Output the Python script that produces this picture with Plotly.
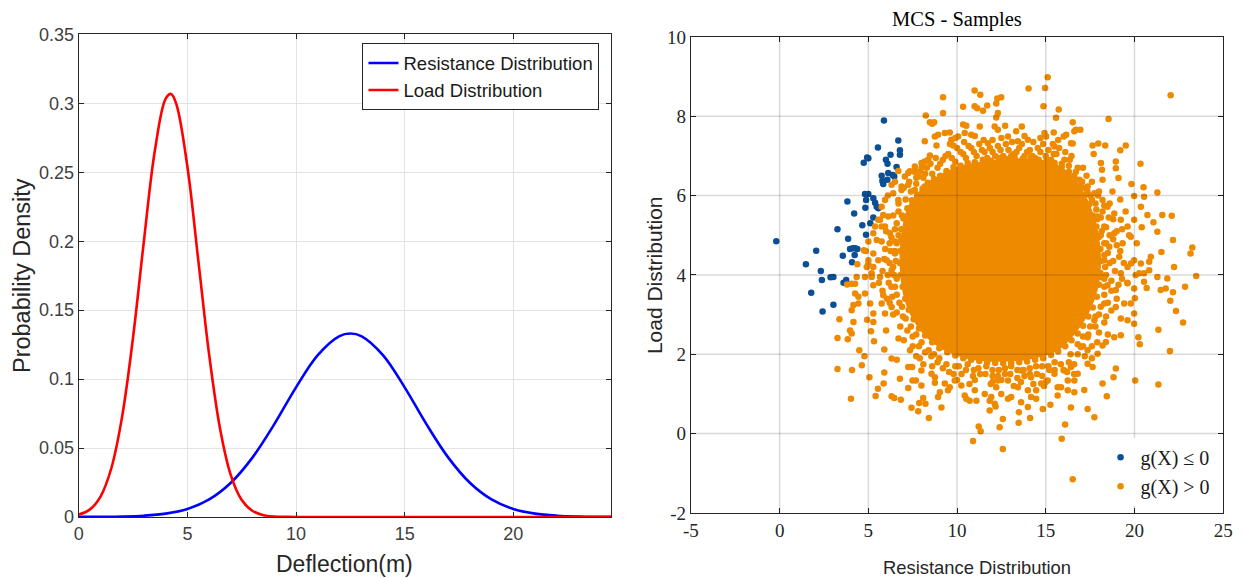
import plotly.graph_objects as go

# ---------------- data: left panel (probability density curves) ----------------
load_x = [0, 0.5, 1, 1.5, 2, 2.5, 3, 3.5, 4, 4.25, 4.5, 5, 5.5, 6, 6.5, 7, 7.5, 8, 8.5,
          9, 9.5, 10, 12, 16, 20, 24.5]
load_pdf = [0.0017, 0.0053, 0.0148, 0.0355, 0.0733, 0.1306, 0.2005, 0.2656, 0.3034, 0.3068,
            0.2989, 0.254, 0.1862, 0.1177, 0.0642, 0.0302, 0.0123, 0.0043, 0.0013,
            0.0003, 0.0001, 0.0, 0.0, 0.0, 0.0, 0.0]

res_x = [0, 1, 2, 3, 4, 5, 6, 7, 8, 9, 10, 11, 12, 12.5, 13, 14, 15, 16, 17, 18, 19, 20,
         21, 22, 23, 24, 24.5]
res_pdf = [0.00002, 0.00009, 0.0003, 0.0009, 0.0024, 0.0058, 0.0127, 0.0248, 0.0432, 0.0673,
           0.094, 0.1174, 0.1312, 0.133, 0.1312, 0.1174, 0.094, 0.0673, 0.0432, 0.0248,
           0.0127, 0.0058, 0.0024, 0.0009, 0.0003, 0.00009, 0.00004]

left_xticks = [0, 5, 10, 15, 20]
left_yticks = [0, 0.05, 0.1, 0.15, 0.2, 0.25, 0.3, 0.35]
left_yticklabels = ["0", "0.05", "0.1", "0.15", "0.2", "0.25", "0.3", "0.35"]

# ---------------- data: right panel (MCS samples) ----------------
# failure samples, g(X) <= 0  (resistance, load)
fail_samples = [
    (5.88, 7.89), (6.69, 7.39), (6.78, 7.14), (6.78, 7.03), (5.54, 7.21), (6.25, 7.03),
    (5.99, 6.90), (6.08, 6.80), (4.93, 6.96), (4.74, 6.83), (5.00, 6.94), (6.59, 6.72),
    (6.12, 6.57), (6.37, 6.52), (6.46, 6.48), (5.75, 6.50), (5.79, 6.37), (5.84, 6.29),
    (6.07, 6.40), (4.81, 6.04), (5.00, 6.04), (4.87, 5.89), (5.28, 5.93), (5.38, 5.82),
    (5.47, 5.72), (5.56, 5.68), (3.82, 5.85), (4.83, 5.69), (4.20, 5.55), (5.28, 5.45),
    (5.11, 5.30), (4.66, 5.25), (3.26, 5.15), (4.87, 5.01), (3.86, 4.91), (-0.19, 4.85),
    (4.12, 4.67), (4.25, 4.67), (4.38, 4.65), (3.97, 4.65), (4.23, 4.50), (2.06, 4.61),
    (3.56, 4.48), (1.48, 4.27), (4.08, 4.32), (2.32, 4.10), (2.87, 3.94), (3.03, 3.95),
    (3.75, 3.87), (2.38, 3.87), (3.60, 3.80), (3.73, 3.80), (1.78, 3.55), (2.42, 3.08),
    (3.03, 3.25),
]

# safe samples, g(X) > 0 (the sparse and transition samples around the dense core)
safe_samples = [
    (8.24, 8.02), (8.47, 7.85), (8.60, 7.81), (8.18, 7.37), (8.75, 7.49), (8.84, 7.26),
    (8.47, 7.01), (8.00, 6.82), (8.18, 6.86), (6.69, 6.62), (7.62, 6.65), (6.50, 6.35),
    (6.31, 6.27), (7.06, 6.48), (7.25, 6.57), (6.10, 6.00), (6.87, 6.23), (5.75, 5.72),
    (5.94, 5.89), (5.56, 5.39), (5.75, 5.22), (5.28, 5.05), (5.47, 4.88), (4.75, 4.62),
    (4.85, 4.60), (5.28, 4.54), (5.00, 4.29), (4.38, 4.27), (4.91, 4.20), (4.34, 3.95),
    (4.81, 3.95), (3.80, 3.76), (4.06, 3.78), (4.25, 3.78),
    (5.00, 4.84), (5.38, 5.22), (5.66, 5.39), (5.84, 5.51), (6.12, 5.47), (5.94, 5.22),
    (6.22, 5.05), (6.50, 4.84), (5.75, 4.84), (5.56, 4.37), (5.28, 4.20), (5.00, 4.37),
    (6.03, 4.37), (6.31, 4.12), (6.50, 4.54), (5.19, 4.04), (5.66, 3.95),
    (4.25, 3.53), (4.44, 3.45), (4.81, 3.53), (5.28, 3.74), (5.19, 3.95), (5.10, 3.28),
    (5.84, 3.49), (5.75, 3.28), (5.94, 3.03), (6.31, 3.19), (5.28, 3.03), (4.44, 3.28),
    (4.16, 3.24), (4.06, 3.11),
    (7.34, 6.61), (7.62, 6.73), (7.81, 6.48), (8.09, 6.82), (8.37, 6.90), (8.93, 7.53),
    (9.31, 7.58), (9.59, 7.59), (9.21, 8.08), (9.68, 7.41), (10.06, 7.49), (10.43, 7.58),
    (10.80, 7.53), (11.28, 7.74), (6.40, 6.06), (6.69, 5.89), (6.87, 6.14), (7.25, 6.27),
    (7.62, 6.14), (7.90, 5.97), (8.18, 6.23), (8.56, 6.31), (9.12, 6.19), (9.49, 6.06),
    (9.21, 8.48), (10.99, 8.65), (11.31, 8.54), (10.34, 8.24), (10.99, 8.25), (11.14, 8.20),
    (11.46, 8.14), (11.70, 8.27), (12.27, 8.45), (12.49, 8.48), (12.21, 8.32), (12.30, 8.08),
    (12.21, 7.97), (8.71, 7.85), (9.78, 7.26), (10.34, 7.79), (10.52, 7.76), (12.12, 7.74),
    (12.71, 7.76), (13.65, 7.74), (13.33, 7.62), (12.87, 7.49), (12.30, 7.66), (11.74, 7.32),
    (13.43, 7.37), (13.99, 7.41), (16.61, 7.62), (16.42, 7.32), (15.49, 7.24), (17.64, 7.26),
    (22.04, 8.53), (15.11, 8.98), (14.96, 8.71), (14.87, 8.25), (14.03, 8.70), (18.54, 7.93),
    (15.73, 8.17), (15.58, 7.96), (16.52, 7.85), (16.70, 7.66), (16.95, 7.66), (16.01, 7.49),
    (16.15, 7.53), (16.52, 7.31), (15.45, 7.59), (15.02, 7.49), (14.93, 7.58), (17.96, 7.31),
    (18.35, 7.26), (19.51, 7.26), (19.20, 7.14), (17.70, 7.05), (20.34, 6.80), (18.95, 6.86),
    (18.95, 6.69), (18.11, 6.82), (18.17, 6.65), (19.10, 6.44), (19.83, 6.29), (20.51, 6.21),
    (21.29, 6.08), (19.98, 5.99), (20.54, 5.97), (18.76, 6.10), (18.20, 6.40), (21.57, 5.51),
    (22.10, 5.49), (22.17, 4.88), (21.52, 4.58), (21.07, 5.33), (21.29, 5.09), (20.41, 5.20),
    (20.13, 4.80), (20.73, 5.51), (23.26, 4.69), (23.16, 4.54), (23.48, 3.97), (20.92, 4.46),
    (20.83, 4.33), (20.36, 4.29), (19.80, 4.29), (20.27, 4.04), (20.83, 4.12), (21.85, 3.91),
    (20.36, 5.72), (19.98, 5.39), (22.23, 4.20), (21.76, 3.66), (21.48, 3.62),
    (17.36, 6.23), (17.74, 6.06), (18.20, 5.89), (18.48, 5.72), (18.86, 5.55), (19.23, 5.39),
    (19.61, 5.22), (19.79, 4.96), (19.33, 4.80), (18.86, 5.05), (18.30, 5.22), (17.92, 5.47),
    (17.36, 5.64), (18.58, 4.71), (19.14, 4.46), (19.61, 4.20), (18.30, 4.37), (19.23, 4.04),
    (19.98, 4.37), (20.54, 4.04),
    (12.58, -0.39), (16.52, -1.15), (15.90, -0.13), (16.09, 0.23), (17.74, 0.41), (17.36, 0.62),
    (16.42, 0.66), (15.26, 0.73), (14.83, 0.62), (14.12, 0.39), (13.47, 0.27), (12.40, 0.16),
    (12.58, 0.37), (13.48, 0.54), (13.99, 0.67), (14.46, 0.88), (16.61, 1.04), (17.17, 1.10),
    (18.44, 0.94), (18.20, 1.26), (18.82, 1.42), (18.95, 1.64), (20.04, 1.34), (21.35, 1.24),
    (22.00, 2.08), (21.35, 2.62), (22.74, 2.80), (22.34, 3.09), (22.02, 3.35), (22.17, 3.56),
    (22.85, 3.70), (20.22, 2.43), (20.30, 2.25), (19.98, 2.77), (20.02, 3.41), (19.98, 3.66),
    (20.69, 3.67), (21.29, 3.95), (20.54, 3.83), (19.23, 2.48), (19.23, 2.90), (18.95, 3.19),
    (19.42, 3.28), (18.20, 2.22), (17.36, 2.10), (17.64, 1.68), (16.80, 1.51), (16.24, 1.34),
    (15.86, 1.17), (15.67, 0.96), (14.17, 0.92), (13.61, 0.79), (12.87, 0.88), (12.12, 0.75),
    (12.21, 1.17), (11.84, 0.58), (14.46, 1.09),
    (18.11, 3.95), (18.48, 3.74), (18.95, 3.62), (19.79, 3.28), (19.98, 3.03), (19.61, 2.86),
    (18.86, 2.43), (18.39, 2.31), (17.92, 2.01), (17.36, 1.76), (18.30, 3.28), (17.74, 2.86),
    (17.36, 2.43), (16.98, 2.18), (19.61, 3.79), (20.07, 4.00),
    (12.30, 1.34), (12.87, 1.34), (12.49, 1.00), (13.61, 1.59), (14.17, 1.42), (14.74, 1.26),
    (15.11, 1.34), (15.49, 1.51), (16.05, 1.59), (16.42, 1.68), (15.67, 1.17), (16.24, 1.09),
    (16.61, 1.34), (13.99, 1.09), (13.43, 1.17), (13.05, 0.92),
    (3.37, 2.88), (3.26, 2.41), (3.84, 2.38), (3.97, 2.60), (4.16, 2.81), (4.06, 2.52),
    (4.49, 2.10), (4.78, 1.95), (4.63, 1.72), (3.26, 1.63), (4.08, 1.60), (4.02, 0.88),
    (5.06, 1.42), (5.32, 2.33), (5.15, 2.58), (4.93, 2.87), (5.28, 2.81), (5.54, 1.13),
    (5.86, 1.26), (5.90, 1.54), (5.41, 0.95), (6.31, 0.94), (6.46, 0.90), (6.83, 0.85),
    (6.78, 1.38), (7.25, 1.15), (7.49, 1.34), (7.68, 1.34), (7.43, 0.65), (7.81, 0.56),
    (7.87, 0.77), (8.09, 0.90), (8.22, 0.75), (8.41, 0.39), (9.12, 0.66), (8.93, 0.92),
    (9.03, 1.04), (7.25, 1.68), (7.47, 1.68), (5.90, 2.12), (6.31, 1.89), (6.60, 1.86),
    (10.52, 0.88), (10.71, 0.83), (11.09, 0.83), (11.84, 0.83), (12.17, 0.68), (11.22, 0.18),
    (11.33, 0.06), (10.90, -0.19), (7.99, 1.59), (8.56, 1.51), (8.75, 1.28), (7.99, 1.21),
    (9.31, 1.26), (9.59, 1.17), (9.87, 1.34), (10.24, 1.21), (10.43, 0.96), (11.00, 1.09),
    (11.56, 1.00), (11.93, 0.92), (8.75, 1.42), (9.49, 1.09),
    (8.90, 6.70), (9.20, 6.90), (9.50, 7.05), (9.90, 6.85), (10.20, 7.10), (10.50, 6.95),
    (10.80, 7.20), (11.10, 7.00), (11.40, 7.15), (11.70, 6.95), (12.00, 7.10), (12.30, 7.25),
    (12.60, 7.00), (12.90, 7.15), (13.20, 7.05), (13.50, 7.20), (13.80, 7.00), (14.10, 7.15),
    (14.40, 6.95), (14.70, 7.10), (15.00, 7.00), (15.30, 6.90), (15.60, 7.05), (15.90, 6.80),
    (16.30, 6.75), (16.60, 6.50), (9.60, 7.30), (10.40, 7.35), (11.50, 7.40), (12.50, 7.45),
    (13.10, 7.35), (14.30, 7.35), (15.40, 7.30), (16.10, 7.10), (8.60, 6.55),
    (16.90, 6.40), (17.20, 6.20), (17.50, 6.00), (17.80, 5.80), (17.30, 6.50), (18.00, 6.10),
    (18.20, 5.60), (17.90, 5.40), (18.40, 5.20), (18.10, 5.00), (18.60, 5.80), (18.80, 5.40),
    (19.20, 5.90), (19.50, 5.60), (19.00, 5.10),
    (18.40, 4.80), (18.30, 4.50), (18.60, 4.30), (18.40, 4.00), (18.30, 3.70), (18.70, 3.60),
    (18.90, 4.10), (19.20, 4.60), (19.40, 4.30), (19.60, 3.80), (19.00, 3.40), (18.50, 3.30),
    (18.80, 4.90), (19.70, 5.00), (19.30, 3.90),
    (18.00, 3.00), (17.80, 2.70), (17.40, 2.50), (17.10, 2.20), (16.80, 2.00), (17.90, 2.30),
    (18.30, 2.80), (17.60, 1.90), (16.30, 1.80), (16.00, 1.60), (16.60, 1.50), (18.50, 2.50),
    (15.50, 1.80), (15.20, 1.60), (14.80, 1.70), (14.50, 1.50), (14.10, 1.65), (13.80, 1.45),
    (13.40, 1.60), (13.00, 1.50), (12.70, 1.65), (12.30, 1.45), (12.00, 1.60), (11.60, 1.50),
    (11.20, 1.65), (10.90, 1.45), (10.50, 1.60), (10.10, 1.70), (9.80, 1.50), (9.40, 1.75),
    (9.00, 1.90), (8.70, 2.00), (15.00, 1.30), (13.20, 1.20), (11.90, 1.25), (10.70, 1.25),
    (12.50, 1.35), (14.30, 1.25),
    (8.40, 2.10), (8.00, 2.30), (7.70, 2.50), (7.40, 2.70), (7.10, 2.90), (6.90, 3.20),
    (6.60, 3.50), (7.50, 2.20), (6.80, 2.70), (6.40, 3.00), (7.90, 1.90), (6.20, 3.30),
    (6.00, 2.60),
    (6.60, 3.90), (6.40, 4.20), (6.50, 4.60), (6.70, 5.00), (6.30, 3.70), (6.10, 4.00),
    (5.90, 4.40), (6.20, 4.80), (6.00, 5.10), (5.80, 3.60),
    (6.90, 5.50), (7.10, 5.90), (7.40, 6.10), (7.70, 6.30), (8.10, 6.45), (7.00, 6.20),
    (6.70, 5.80), (7.60, 6.60), (8.30, 6.70), (6.60, 5.30),
    (9.05, 6.80), (9.35, 7.00), (9.70, 6.95), (10.00, 7.20), (10.35, 7.05), (10.65, 7.25),
    (10.95, 7.10), (11.25, 7.30), (11.55, 7.10), (11.85, 7.20), (12.15, 7.00), (12.45, 7.15),
    (12.75, 7.30), (13.05, 7.00), (13.35, 7.10), (13.65, 7.30), (13.95, 7.10), (14.25, 7.00),
    (14.55, 7.20), (14.85, 7.30), (15.15, 7.15), (15.45, 7.05), (15.75, 7.20), (16.05, 6.90),
    (16.45, 7.00), (16.80, 6.70), (9.90, 7.45), (11.00, 7.50), (12.00, 7.40), (13.80, 7.50),
    (14.70, 7.45), (15.70, 7.40),
    (7.90, 6.60), (8.20, 6.55), (8.50, 6.80), (8.80, 6.95), (7.30, 6.35), (7.70, 6.45),
    (8.00, 6.70),
    (6.70, 5.60), (6.40, 5.50), (6.50, 5.15), (6.30, 4.95), (6.60, 4.80), (6.25, 4.60),
    (6.55, 4.35), (6.20, 4.30), (6.45, 4.00), (6.15, 3.80), (6.50, 3.70), (6.35, 3.45),
    (6.75, 3.30), (6.60, 3.05), (6.95, 2.95), (5.95, 4.65), (5.80, 4.10), (6.05, 3.40),
    (5.60, 3.80),
    (7.20, 2.60), (7.50, 2.45), (7.85, 2.20), (8.20, 2.05), (8.55, 1.95), (8.90, 1.80),
    (7.00, 2.35), (7.35, 2.10), (7.70, 1.95), (8.10, 1.75), (8.60, 1.70), (6.70, 2.40),
    (9.20, 1.65), (9.55, 1.55), (9.90, 1.70), (10.25, 1.50), (10.60, 1.75), (10.95, 1.60),
    (11.30, 1.50), (11.65, 1.70), (12.00, 1.45), (12.35, 1.60), (12.70, 1.50), (13.05, 1.70),
    (13.40, 1.40), (13.75, 1.60), (14.10, 1.50), (14.45, 1.70), (14.80, 1.45), (15.15, 1.70),
    (15.50, 1.60), (15.85, 1.75), (10.00, 1.35), (11.00, 1.35), (12.00, 1.30), (13.60, 1.30),
    (14.90, 1.20), (16.20, 1.55),
    (16.40, 2.00), (16.80, 2.25), (17.10, 2.45), (17.50, 2.70), (17.80, 2.95), (18.10, 3.20),
    (18.30, 3.50), (16.60, 1.75), (17.20, 1.95), (17.60, 2.20), (18.00, 2.55), (18.40, 2.95),
    (18.70, 3.10),
    (18.30, 3.90), (18.35, 4.20), (18.50, 4.55), (18.30, 4.80), (18.15, 5.10), (18.60, 5.00),
    (18.70, 3.85), (18.80, 4.35), (19.00, 4.75), (19.10, 3.75), (19.30, 5.15), (18.55, 5.45),
    (17.60, 5.90), (17.35, 6.10), (17.05, 6.35), (16.70, 6.60), (17.85, 5.65), (18.10, 5.45),
    (17.60, 6.35), (17.95, 6.00), (18.30, 5.75), (17.10, 6.70), (16.35, 6.90),
    # samples lying on the rim of the saturated region
    (6.85, 5.15), (6.98, 5.42), (7.20, 5.68), (7.45, 5.88), (7.75, 6.02), (8.05, 6.17),
    (8.35, 6.32), (8.70, 6.42), (9.05, 6.50), (9.40, 6.62),
    (9.80, 6.72), (10.20, 6.75), (10.60, 6.82), (11.00, 6.84), (11.45, 6.90), (11.90, 6.88),
    (12.35, 6.95), (12.80, 6.92), (13.25, 6.97), (13.70, 6.93), (14.15, 6.96), (14.60, 6.90),
    (15.05, 6.90), (15.50, 6.82), (15.90, 6.72),
    (16.30, 6.60), (16.65, 6.42), (16.95, 6.25), (17.20, 6.02), (17.45, 5.78), (17.65, 5.50),
    (17.85, 5.22), (17.98, 4.95), (18.08, 4.65), (18.12, 4.35),
    (18.08, 4.05), (18.00, 3.75), (17.88, 3.45), (17.65, 3.18), (17.40, 2.95), (17.10, 2.72),
    (16.80, 2.52), (16.45, 2.35), (16.10, 2.20), (15.70, 2.07),
    (15.30, 1.98), (14.85, 1.90), (14.40, 1.86), (13.95, 1.82), (13.50, 1.80), (13.05, 1.78),
    (12.60, 1.77), (12.15, 1.78), (11.70, 1.80), (11.25, 1.83), (10.80, 1.86), (10.35, 1.90),
    (9.90, 1.97), (9.45, 2.05), (9.00, 2.15), (8.60, 2.30), (8.20, 2.47), (7.85, 2.65),
    (7.55, 2.88), (7.28, 3.12), (7.08, 3.40), (6.93, 3.70), (6.82, 4.00), (6.78, 4.30),
    (6.80, 4.60), (6.85, 4.90),
]

# outline of the saturated (fully overlapping) part of the sample cloud
core_outline = [
    (6.97, 5.13), (7.36, 5.76), (8.37, 6.27), (9.78, 6.65), (11.46, 6.83), (13.43, 6.90),
    (15.11, 6.83), (16.12, 6.60), (16.91, 6.19), (17.47, 5.69), (17.87, 5.08), (18.03, 4.37),
    (17.87, 3.67), (17.36, 3.06), (16.57, 2.53), (15.56, 2.10), (13.99, 1.90), (12.02, 1.85),
    (10.34, 1.95), (8.93, 2.23), (7.81, 2.73), (7.13, 3.36), (6.85, 4.25), (6.97, 5.13),
]

right_xticks = [-5, 0, 5, 10, 15, 20, 25]
right_xticklabels = ["-5", "0", "5", "10", "15", "20", "25"]
right_yticks = [-2, 0, 2, 4, 6, 8, 10]
right_yticklabels = ["-2", "0", "2", "4", "6", "8", "10"]

# ---------------- styling ----------------
ORANGE = "#EE8A00"
BLUE = "#0B4F97"
AXC = "#262626"
SANS = "Liberation Sans, Arial, sans-serif"
SERIF = "Liberation Serif, Times New Roman, serif"

fig = go.Figure()

fig.add_trace(go.Scatter(x=res_x, y=res_pdf, mode="lines", name="Resistance Distribution",
                         line=dict(color="#0000FF", width=2.6, shape="spline"),
                         xaxis="x", yaxis="y", legend="legend"))
fig.add_trace(go.Scatter(x=load_x, y=load_pdf, mode="lines", name="Load Distribution",
                         line=dict(color="#FF0000", width=2.6, shape="spline"),
                         xaxis="x", yaxis="y", legend="legend"))

fig.add_trace(go.Scatter(x=[p[0] for p in core_outline], y=[p[1] for p in core_outline],
                         mode="lines", fill="toself", fillcolor=ORANGE,
                         line=dict(color=ORANGE, width=3, shape="spline"),
                         showlegend=False, hoverinfo="skip", xaxis="x2", yaxis="y2"))
fig.add_trace(go.Scatter(x=[p[0] for p in fail_samples], y=[p[1] for p in fail_samples],
                         mode="markers", name="g(X) ≤ 0",
                         marker=dict(color=BLUE, size=6.5, line=dict(width=0)),
                         xaxis="x2", yaxis="y2", legend="legend2"))
fig.add_trace(go.Scatter(x=[p[0] for p in safe_samples], y=[p[1] for p in safe_samples],
                         mode="markers", name="g(X) > 0",
                         marker=dict(color=ORANGE, size=6.5, line=dict(width=0)),
                         xaxis="x2", yaxis="y2", legend="legend2"))

# grid of the right panel is drawn on top of the samples (as in the original)
shapes = []
for v in right_xticks[1:-1]:
    shapes.append(dict(type="line", xref="x2", yref="y2 domain", x0=v, x1=v, y0=0, y1=1,
                       line=dict(color="rgba(0,0,0,0.15)", width=1.5), layer="above"))
for v in right_yticks[1:-1]:
    shapes.append(dict(type="line", xref="x2 domain", yref="y2", x0=0, x1=1, y0=v, y1=v,
                       line=dict(color="rgba(0,0,0,0.15)", width=1.5), layer="above"))

common_axis = dict(showline=True, linecolor=AXC, linewidth=1.2, mirror="ticks",
                   ticks="inside", ticklen=5, tickcolor=AXC, zeroline=False)

fig.update_layout(
    width=1251, height=585,
    margin=dict(l=0, r=0, t=0, b=0),
    paper_bgcolor="white", plot_bgcolor="white",
    showlegend=True,
    shapes=shapes,
    xaxis=dict(domain=[0.05742, 0.48909], anchor="y", range=[0, 24.5],
               tickvals=left_xticks, showgrid=True, gridcolor="#e3e3e3", gridwidth=1,
               tickfont=dict(family=SANS, size=18, color="#404040"), **common_axis),
    yaxis=dict(domain=[0.10118, 0.95677], anchor="x", range=[0, 0.35],
               tickvals=left_yticks, ticktext=left_yticklabels,
               showgrid=True, gridcolor="#e3e3e3", gridwidth=1,
               tickfont=dict(family=SANS, size=18, color="#404040"), **common_axis),
    xaxis2=dict(domain=[0.55388, 0.98554], anchor="y2", range=[-5, 25],
                tickvals=right_xticks, ticktext=right_xticklabels, showgrid=False,
                tickfont=dict(family=SERIF, size=19, color=AXC), **common_axis),
    yaxis2=dict(domain=[0.10830, 0.95233], anchor="x2", range=[-2, 10],
                tickvals=right_yticks, ticktext=right_yticklabels, showgrid=False,
                tickfont=dict(family=SERIF, size=19, color=AXC), **common_axis),
    legend=dict(x=0.2875, y=0.94077, xanchor="left", yanchor="top",
                bgcolor="white", bordercolor=AXC, borderwidth=1,
                font=dict(family=SANS, size=18.5, color="#1a1a1a"),
                tracegroupgap=0, itemwidth=30),
    legend2=dict(x=0.8861, y=0.2417, xanchor="left", yanchor="top",
                 bgcolor="white", borderwidth=0,
                 font=dict(family=SERIF, size=20, color="#1a1a1a")),
    annotations=[
        dict(text="Deflection(m)", xref="paper", yref="paper", x=0.27284, y=0.0176,
             xanchor="center", yanchor="middle", showarrow=False,
             font=dict(family=SANS, size=23, color=AXC)),
        dict(text="Probability Density", xref="paper", yref="paper", x=0.01126, y=0.5299,
             xanchor="center", yanchor="middle", textangle=-90, showarrow=False,
             font=dict(family=SANS, size=23.5, color=AXC)),
        dict(text="MCS - Samples", xref="paper", yref="paper", x=0.7693, y=0.98345,
             xanchor="center", yanchor="middle", showarrow=False,
             font=dict(family=SERIF, size=20.5, color="#000000")),
        dict(text="Resistance Distribution", xref="paper", yref="paper", x=0.7855, y=0.01214,
             xanchor="center", yanchor="middle", showarrow=False,
             font=dict(family=SANS, size=18.4, color=AXC)),
        dict(text="Load Distribution", xref="paper", yref="paper", x=0.5239, y=0.5299,
             xanchor="center", yanchor="middle", textangle=-90, showarrow=False,
             font=dict(family=SANS, size=21, color=AXC)),
    ],
)

fig.write_html("out.html")
